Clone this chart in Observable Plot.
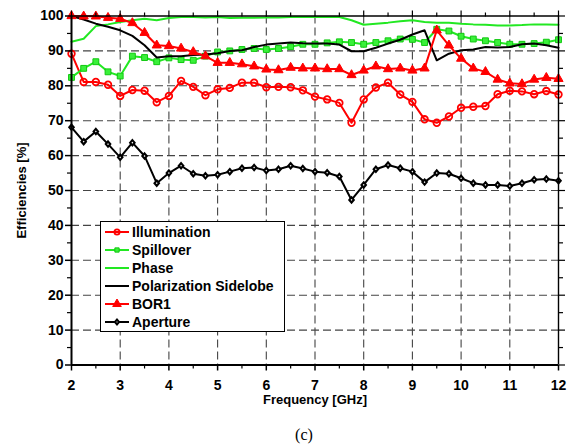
<!DOCTYPE html>
<html><head><meta charset="utf-8">
<script src="https://cdn.jsdelivr.net/npm/d3@7"></script>
<script src="https://cdn.jsdelivr.net/npm/@observablehq/plot@0.6"></script>
<style>
body{margin:0;background:#fff;font-family:"Liberation Sans",Arial,sans-serif;}
#wrap{position:relative;width:573px;height:446px;background:#fff;}
#legend{position:absolute;left:100px;top:221px;width:185px;height:111px;border:1px solid #000;background:#fff;box-sizing:border-box;font-weight:bold;font-size:14px;color:#000;padding-top:1px;}
.row{height:18px;display:flex;align-items:center;white-space:nowrap;}
.row svg{margin-left:4px;margin-right:3px;}
#cap{position:absolute;left:254px;width:100px;top:426px;text-align:center;font-family:"Liberation Serif",serif;font-size:16px;line-height:18px;}
</style></head><body>
<div id="wrap"></div>
<script>
const freq = [2,2.25,2.5,2.75,3,3.25,3.5,3.75,4,4.25,4.5,4.75,5,5.25,5.5,5.75,6,6.25,6.5,6.75,
  7,7.25,7.5,7.75,8,8.25,8.5,8.75,9,9.25,9.5,9.75,10,10.25,10.5,10.75,11,11.25,11.5,11.75,12];
const illumination = [89.2,81.1,81.1,80.3,77.1,78.8,78.6,75.3,77.1,81.4,79.7,77.3,79.0,79.4,80.9,80.9,79.6,79.7,79.6,78.7,
  76.9,76.1,75.1,69.4,76.1,79.5,80.9,77.5,75.4,70.4,69.4,71.2,73.7,74.0,74.2,77.6,78.6,78.4,77.6,78.5,77.5];
const spillover = [82.4,85.0,86.9,84.0,82.8,88.5,88.1,86.9,88.0,87.5,87.3,88.5,89.7,90.0,90.4,90.7,90.4,90.7,91.2,91.9,
  91.9,92.3,92.6,92.4,91.9,92.4,92.9,93.4,93.3,92.4,96.2,95.7,94.2,93.4,92.9,92.4,91.9,91.9,92.1,92.5,93.2];
const phase = [92.6,93.5,97.1,97.6,98.3,98.8,99.2,98.8,99.4,99.7,99.7,99.6,99.7,99.4,99.5,99.5,99.6,99.6,99.7,99.7,
  99.7,99.7,99.7,98.8,97.5,97.8,98.1,98.5,98.8,98.3,98.1,98.1,97.8,97.6,97.5,97.3,97.3,97.4,97.6,97.6,97.5];
const polarization = [100,99.0,97.8,96.9,95.9,94.3,91.6,88.1,88.5,88.5,88.8,89.0,89.3,90.0,90.2,91.1,91.8,92.1,92.4,92.2,
  92.1,92.1,91.8,89.9,89.9,90.9,92.1,93.2,94.7,95.9,87.3,89.2,90.2,90.4,91.1,91.0,91.1,91.9,92.1,91.6,90.9];
const bor1 = [100,99.9,99.9,99.5,99.2,98.0,95.2,91.6,91.4,90.7,89.7,88.5,86.6,86.6,86.2,85.6,84.7,84.5,85.2,85.0,
  85.0,84.8,84.8,83.1,84.4,85.6,84.8,85.0,84.4,85.0,95.9,91.6,87.8,85.0,84.0,81.8,80.7,80.5,81.8,82.3,82.0];
const aperture = [68.1,64.0,66.9,63.3,59.5,63.7,59.9,52.1,55.0,57.1,54.8,54.2,54.5,55.4,56.4,56.6,55.7,56.1,57.1,56.3,
  55.4,55.1,54.0,47.3,51.6,56.1,57.3,56.4,55.4,52.4,55.0,54.8,53.5,52.1,51.6,51.6,51.3,52.1,53.1,53.3,52.8];
const seriesNames = ["Illumination","Spillover","Phase","Polarization Sidelobe","BOR1","Aperture"];
const xTicks = [2,3,4,5,6,7,8,9,10,11,12];
const xMinor = [2.5,3.5,4.5,5.5,6.5,7.5,8.5,9.5,10.5,11.5];
const yTicks = [0,10,20,30,40,50,60,70,80,90,100];
const yMinor = [5,15,25,35,45,55,65,75,85,95];
const xDomain = [2,12], yDomain = [0,100];

const RED = "#ff0000", GREEN = "#22e822", BLACK = "#000000";
const diamond = {draw(ctx, size){const a=Math.sqrt(size)*0.4, b=a*0.85; ctx.moveTo(0,-a); ctx.lineTo(b,0); ctx.lineTo(0,a); ctx.lineTo(-b,0); ctx.closePath();}};
const styles = [
  {values: illumination, stroke: RED, symbol: "circle", fill: "none", mstroke: RED, r: 3.3, sw: 1.8, lr: 2.6},
  {values: spillover, stroke: GREEN, symbol: "square", fill: "#3af03a", mstroke: "#10c810", r: 3.3, sw: 1, lr: 2.4},
  {values: phase, stroke: GREEN, symbol: null},
  {values: polarization, stroke: BLACK, symbol: null},
  {values: bor1, stroke: RED, symbol: "triangle", fill: RED, mstroke: RED, r: 3.4, sw: 1, lr: 3.2},
  {values: aperture, stroke: BLACK, symbol: diamond, fill: "white", mstroke: BLACK, r: 3.7, sw: 2.1, lr: 3.4}
];

const gridStyle = {stroke: "#444", strokeOpacity: 1, strokeDasharray: "8,4", strokeWidth: 1.1};
const marks = [
  Plot.gridX(xTicks.slice(1,-1), gridStyle),
  Plot.gridY(yTicks.slice(1,-1), gridStyle)
];
seriesNames.forEach((name, k) => {
  const s = styles[k];
  const rows = freq.map((f, i) => ({f, v: s.values[i]}));
  marks.push(Plot.line(rows, {x: "f", y: "v", stroke: s.stroke, strokeWidth: 2}));
  if (s.symbol) marks.push(Plot.dot(rows, {x: "f", y: "v", symbol: () => s.symbol, r: s.r, fill: s.fill, stroke: s.mstroke, strokeWidth: s.sw}));
});
const tickFont = {fontSize: 14, fontWeight: "bold"};
marks.push(
  Plot.ruleX([xDomain[0]], {stroke: "#000", strokeWidth: 2}),
  Plot.ruleX([xDomain[1]], {stroke: "#000", strokeWidth: 1.4}),
  Plot.ruleY([yDomain[0]], {stroke: "#000", strokeWidth: 2}),
  Plot.ruleY([yDomain[1]], {stroke: "#000", strokeWidth: 1.4}),
  Plot.axisX(xTicks, {anchor: "bottom", tickSize: 6, strokeWidth: 1.5, tickPadding: 9, ...tickFont, label: null}),
  Plot.axisX({anchor: "bottom", ticks: [], label: "Frequency [GHz]", labelAnchor: "center", labelOffset: 39, labelArrow: "none", fontSize: 13, fontWeight: "bold"}),
  Plot.axisX(xMinor, {anchor: "bottom", tickSize: 4, strokeWidth: 1.2, tickFormat: () => "", label: null}),
  Plot.axisX(xTicks, {anchor: "top", tickSize: 6, strokeWidth: 1.2, tickFormat: () => "", label: null}),
  Plot.axisX(xMinor, {anchor: "top", tickSize: 4, strokeWidth: 1.2, tickFormat: () => "", label: null}),
  Plot.axisY(yTicks, {anchor: "left", tickSize: 6, strokeWidth: 1.5, tickPadding: 2, ...tickFont, label: null}),
  Plot.axisY({anchor: "left", ticks: [], label: "Efficiencies [%]", labelAnchor: "center", labelOffset: 55, labelArrow: "none", fontSize: 13, fontWeight: "bold"}),
  Plot.axisY(yMinor, {anchor: "left", tickSize: 4, strokeWidth: 1.2, tickFormat: () => "", label: null}),
  Plot.axisY(yTicks, {anchor: "right", tickSize: 6, strokeWidth: 1.2, tickFormat: () => "", label: null}),
  Plot.axisY(yMinor, {anchor: "right", tickSize: 4, strokeWidth: 1.2, tickFormat: () => "", label: null})
);

const chart = Plot.plot({
  width: 573, height: 415,
  marginLeft: 71, marginRight: 15, marginTop: 15.5, marginBottom: 50.5,
  x: {domain: xDomain, label: null},
  y: {domain: yDomain, label: null},
  style: {fontFamily: "'Liberation Sans', Arial, sans-serif", background: "white", color: "black"},
  marks
});
const wrap = document.getElementById("wrap");
wrap.appendChild(chart);
const cap = document.createElement("div");
cap.id = "cap"; cap.textContent = "(c)";
wrap.appendChild(cap);

// legend
const legend = document.createElement("div");
legend.id = "legend";
seriesNames.forEach((name, k) => {
  const s = styles[k];
  const row = document.createElement("div"); row.className = "row";
  const svg = d3.create("svg").attr("width", 24).attr("height", 14);
  svg.append("line").attr("x1", 0).attr("x2", 24).attr("y1", 7).attr("y2", 7).attr("stroke", s.stroke).attr("stroke-width", 2);
  if (s.symbol) {
    const type = typeof s.symbol === "string" ? {circle: d3.symbolCircle, square: d3.symbolSquare, triangle: d3.symbolTriangle}[s.symbol] : s.symbol;
    svg.append("path").attr("transform", "translate(12,7)")
      .attr("d", d3.symbol(type, Math.PI * s.lr * s.lr)())
      .attr("fill", s.fill).attr("stroke", s.mstroke).attr("stroke-width", s.sw);
  }
  row.appendChild(svg.node());
  const t = document.createElement("span"); t.textContent = name;
  row.appendChild(t);
  legend.appendChild(row);
});
wrap.appendChild(legend);
</script>
</body></html>
